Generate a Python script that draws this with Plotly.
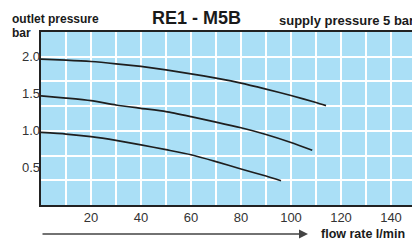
import plotly.graph_objects as go

# data
flow_top = [0, 10, 20, 30, 40, 50, 60, 70, 80, 90, 100, 110, 114]
p_top = [1.965, 1.952, 1.933, 1.902, 1.866, 1.82, 1.767, 1.708, 1.642, 1.561, 1.475, 1.38, 1.338]
flow_mid = [0, 10, 20, 30, 40, 50, 60, 70, 80, 90, 100, 108.5]
p_mid = [1.47, 1.44, 1.405, 1.347, 1.302, 1.258, 1.19, 1.117, 1.04, 0.95, 0.842, 0.737]
flow_bot = [0, 10, 20, 30, 40, 50, 60, 70, 80, 90, 96]
p_bot = [0.977, 0.955, 0.92, 0.87, 0.81, 0.745, 0.677, 0.585, 0.485, 0.39, 0.327]

x_ticks = [10, 20, 30, 40, 50, 60, 70, 80, 90, 100, 110, 120, 130, 140]
x_ticktext = ["", "20", "", "40", "", "60", "", "80", "", "100", "", "120", "", "140"]
y_grid = [1/3, 2/3, 1.0, 4/3, 5/3, 2.0]
y_labels = [0.5, 1.0, 1.5, 2.0]
y_labeltext = ["0.5", "1.0", "1.5", "2.0"]

FONT = "Liberation Sans, Arial, sans-serif"
LINE = "#1e1e1e"

fig = go.Figure()
for fx, py in [(flow_top, p_top), (flow_mid, p_mid), (flow_bot, p_bot)]:
    fig.add_trace(go.Scatter(x=fx, y=py, mode="lines",
                             line=dict(color=LINE, width=1.7, shape="spline", smoothing=0.6),
                             showlegend=False, hoverinfo="skip"))
# invisible trace for label axis
fig.add_trace(go.Scatter(x=[0], y=[0], yaxis="y2", mode="markers",
                         marker=dict(opacity=0), showlegend=False, hoverinfo="skip"))

YR = [0, 2.33]
fig.update_layout(
    width=412, height=242,
    margin=dict(l=41, r=0, t=32, b=37),
    paper_bgcolor="white",
    plot_bgcolor="#aadff6",
    font=dict(family=FONT, color="#333333", size=13),
    xaxis=dict(range=[0, 148.4], tickvals=x_ticks, ticktext=x_ticktext,
               showgrid=True, gridcolor="white", gridwidth=1.5, automargin=False,
               showline=True, linecolor="#222222", linewidth=1.5, mirror=True,
               ticks="", zeroline=False, tickfont=dict(size=13, color="#333333")),
    yaxis=dict(range=YR, tickvals=y_grid, ticktext=[""] * len(y_grid),
               showgrid=True, gridcolor="white", gridwidth=1.5, automargin=False,
               showline=True, linecolor="#222222", linewidth=1.5,
               ticks="", zeroline=False),
    yaxis2=dict(range=YR, overlaying="y", side="left", tickvals=y_labels,
                ticktext=y_labeltext, showgrid=False, zeroline=False, ticks="",
                showline=False, automargin=False,
                tickfont=dict(size=13, color="#333333")),
)

fig.add_annotation(text="<b>RE1 - M5B</b>", xref="paper", yref="paper",
                   x=(196 - 41) / 371, y=1 + (32 - 18) / 173, showarrow=False,
                   font=dict(size=18, color="#1a1a1a", family=FONT),
                   xanchor="center", yanchor="middle")
fig.add_annotation(text="<b>supply pressure 5 bar</b>", xref="paper", yref="paper",
                   x=(277 - 41) / 371, y=1 + (32 - 20.5) / 173, showarrow=False,
                   font=dict(size=13, color="#1a1a1a", family=FONT),
                   xanchor="left", yanchor="middle")
fig.add_annotation(text="<b>outlet pressure</b>", xref="paper", yref="paper",
                   x=-(41 - 10) / 371, y=1 + (32 - 19.5) / 173, showarrow=False,
                   font=dict(size=12, color="#1a1a1a", family=FONT),
                   xanchor="left", yanchor="middle")
fig.add_annotation(text="<b>bar</b>", xref="paper", yref="paper",
                   x=-(41 - 10) / 371, y=1 + (32 - 32.5) / 173, showarrow=False,
                   font=dict(size=12, color="#1a1a1a", family=FONT),
                   xanchor="left", yanchor="middle")
fig.add_annotation(text="<b>flow rate l/min</b>", xref="paper", yref="paper",
                   x=(319 - 41) / 371, y=-(234 - 205) / 173, showarrow=False,
                   font=dict(size=12.5, color="#1a1a1a", family=FONT),
                   xanchor="left", yanchor="middle")
fig.add_annotation(text="", xref="paper", yref="paper",
                   x=(308 - 41) / 371, y=-(234 - 205) / 173,
                   ax=-(308 - 41), ay=0, axref="pixel", ayref="pixel",
                   showarrow=True, arrowhead=2, arrowsize=1.2, arrowwidth=1.5,
                   arrowcolor="#444444")

fig.write_html("out.html", config={"displayModeBar": False},
               post_script="document.body.style.margin='0';document.body.style.overflow='hidden';")
